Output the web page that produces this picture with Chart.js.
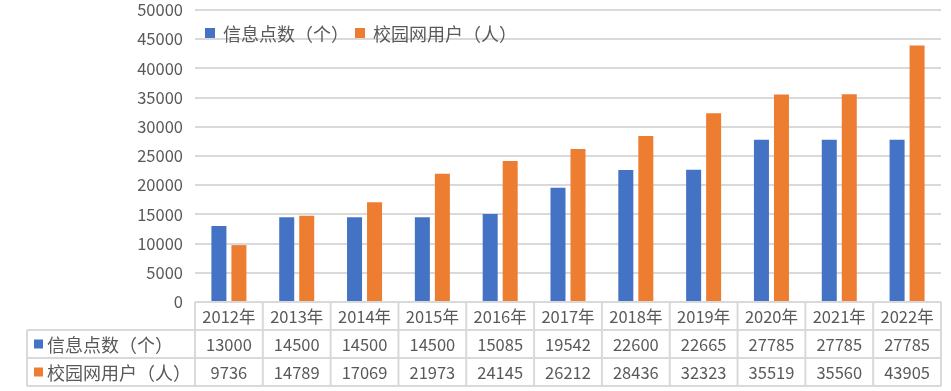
<!DOCTYPE html>
<html>
<head>
<meta charset="utf-8">
<script src="https://cdn.jsdelivr.net/npm/chart.js@4/dist/chart.umd.min.js"></script>
<style>
html,body{margin:0;padding:0;background:#fff;}
#wrap{position:relative;width:951px;height:391px;}
</style>
</head>
<body>
<div id="wrap"><canvas id="c" width="951" height="391"></canvas></div>
<script>
const categories = ['2012年','2013年','2014年','2015年','2016年','2017年','2018年','2019年','2020年','2021年','2022年'];
const seriesNames = ['信息点数（个）','校园网用户（人）'];
const infoPoints = [13000,14500,14500,14500,15085,19542,22600,22665,27785,27785,27785];
const campusUsers = [9736,14789,17069,21973,24145,26212,28436,32323,35519,35560,43905];
const yTicks = [0,5000,10000,15000,20000,25000,30000,35000,40000,45000,50000];

const BLUE = '#4472C4', ORANGE = '#ED7D31', GRID = '#d9d9d9', TXT = '#595959';
const FONT = '"Noto Sans CJK SC", "Liberation Sans", sans-serif';
const LABEL_FONT = '18px "Noto Sans CJK SC", sans-serif';
const LEGEND_X = [205, 355];

const tablePlugin = {
  id: 'dataTable',
  afterDraw(chart) {
    const ctx = chart.ctx;
    const ca = chart.chartArea;
    const x = chart.scales.x;
    const n = categories.length;
    const cw = (ca.right - ca.left) / n;
    const top = ca.bottom, rowH = 28;
    const labelLeft = 27;
    ctx.save();
    ctx.strokeStyle = GRID;
    ctx.lineWidth = 2;
    ctx.beginPath();
    ctx.moveTo(ca.left, top); ctx.lineTo(ca.right, top);
    for (let r = 1; r <= 3; r++) {
      ctx.moveTo(labelLeft, top + r * rowH); ctx.lineTo(ca.right, top + r * rowH);
    }
    for (let i = 0; i <= n; i++) {
      const px = ca.left + i * cw;
      ctx.moveTo(px, top); ctx.lineTo(px, top + 3 * rowH);
    }
    ctx.moveTo(labelLeft, top + rowH); ctx.lineTo(labelLeft, top + 3 * rowH);
    ctx.stroke();

    ctx.fillStyle = TXT;
    ctx.font = '16.5px ' + FONT;
    ctx.textAlign = 'center';
    ctx.textBaseline = 'middle';
    const rows = [infoPoints, campusUsers];
    for (let i = 0; i < n; i++) {
      const cx = x.getPixelForValue(i);
      ctx.fillText(categories[i], cx, top + rowH * 0.5 + 1);
      ctx.fillText(String(rows[0][i]), cx, top + rowH * 1.5 + 1);
      ctx.fillText(String(rows[1][i]), cx, top + rowH * 2.5 + 1);
    }
    ctx.textAlign = 'left';
    ctx.font = LABEL_FONT;
    const cols = [BLUE, ORANGE];
    for (let r = 0; r < 2; r++) {
      const cy = top + rowH * (1.5 + r);
      ctx.fillStyle = cols[r];
      ctx.fillRect(34, cy - 4.5, 9, 9);
      ctx.fillStyle = TXT;
      ctx.fillText(seriesNames[r], 47, cy + 1);
    }
    // legend
    const ly = 33;
    for (let r = 0; r < 2; r++) {
      const lx = LEGEND_X[r];
      ctx.fillStyle = cols[r];
      ctx.fillRect(lx, ly - 5, 10, 10);
      ctx.fillStyle = TXT;
      ctx.fillText(seriesNames[r], lx + 18, ly + 1);
    }
    ctx.restore();
  }
};

new Chart(document.getElementById('c'), {
  type: 'bar',
  data: {
    labels: categories,
    datasets: [
      { label: seriesNames[0], data: infoPoints, backgroundColor: BLUE, categoryPercentage: 0.59, barPercentage: 0.75 },
      { label: seriesNames[1], data: campusUsers, backgroundColor: ORANGE, categoryPercentage: 0.59, barPercentage: 0.75 }
    ]
  },
  options: {
    responsive: false,
    animation: false,
    layout: { padding: { top: 10, bottom: 89, right: 10, left: 0 } },
    plugins: { legend: { display: false }, tooltip: { enabled: false } },
    scales: {
      x: { display: false, offset: true },
      y: {
        min: 0, max: 50000,
        afterBuildTicks(scale) { scale.ticks = yTicks.map(v => ({ value: v })); },
        afterFit(scale) { scale.width = 195; scale.paddingTop = 0; scale.paddingBottom = 0; },
        border: { display: false },
        grid: { color: GRID, lineWidth: 2, drawTicks: false },
        ticks: { color: TXT, font: { size: 16.5, family: FONT }, padding: 12, callback: v => String(v) }
      }
    }
  },
  plugins: [tablePlugin]
});
</script>
</body>
</html>
